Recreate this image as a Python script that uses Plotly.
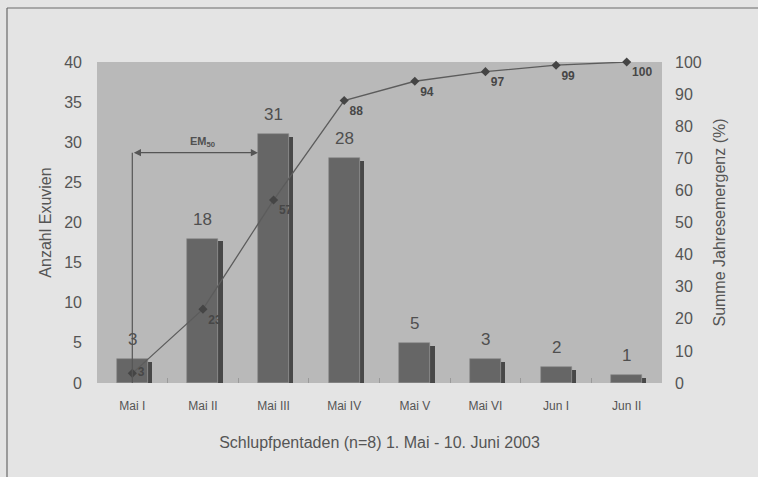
import plotly.graph_objects as go

categories = ["Mai I", "Mai II", "Mai III", "Mai IV", "Mai V", "Mai VI", "Jun I", "Jun II"]
exuvien = [3, 18, 31, 28, 5, 3, 2, 1]
summe_pct = [3, 23, 57, 88, 94, 97, 99, 100]
left_ticks = [0, 5, 10, 15, 20, 25, 30, 35, 40]
right_ticks = [0, 10, 20, 30, 40, 50, 60, 70, 80, 90, 100]

W, H = 758, 477
ML, MR, MT, MB = 97, 96, 62, 94
BAR_W = 0.44
SIDE_W = 0.06
EM_LEVEL = 28.7

fig = go.Figure()

# bar side (pseudo 3D)
fig.add_trace(go.Bar(
    x=categories, y=[v - 0.35 for v in exuvien], width=SIDE_W, offset=BAR_W / 2,
    marker=dict(color="#484848", line=dict(width=0)), hoverinfo="skip", showlegend=False,
))
# main bars
fig.add_trace(go.Bar(
    x=categories, y=exuvien, width=BAR_W, offset=-BAR_W / 2,
    marker=dict(color="#666666", line=dict(color="#8a8a8a", width=0.6)),
    showlegend=False,
))
# bar value labels
for c, v in zip(categories, exuvien):
    fig.add_annotation(
        x=c, y=v, xref="x", yref="y", yanchor="bottom", yshift=8, showarrow=False,
        text=str(v), font=dict(family="Liberation Sans, Arial", size=17, color="#4f4f4f"),
    )
# cumulative line
label_pos = ["middle right"] + ["bottom right"] * (len(summe_pct) - 1)
fig.add_trace(go.Scatter(
    x=categories, y=summe_pct, yaxis="y2", mode="lines+markers+text",
    line=dict(color="#5c5c5c", width=1.3),
    marker=dict(symbol="diamond", size=7, color="#454545"),
    text=["<b>%d</b>" % v for v in summe_pct], textposition=label_pos, cliponaxis=False,
    textfont=dict(family="Liberation Sans, Arial", size=12, color="#474747"),
    showlegend=False,
))

font_axis = dict(family="Liberation Sans, Arial", size=16, color="#555555")

fig.update_layout(
    width=W, height=H,
    margin=dict(l=ML, r=MR, t=MT, b=MB),
    paper_bgcolor="#e4e4e4",
    plot_bgcolor="#b9b9b9",
    barmode="overlay",
    bargap=0,
    xaxis=dict(
        type="category", showgrid=False, zeroline=False, automargin=False,
        ticks="inside", tickson="boundaries", ticklen=5, tickcolor="#9a9a9a",
        tickfont=dict(family="Liberation Sans, Arial", size=12, color="#555555"),
        ticklabelstandoff=14,
        title=dict(text="Schlupfpentaden (n=8) 1. Mai - 10. Juni 2003", font=font_axis, standoff=24),
        range=[-0.5, 7.5],
    ),
    yaxis=dict(
        range=[0, 40], tickvals=left_ticks, showgrid=False, zeroline=False, automargin=False,
        tickfont=font_axis, ticklabelstandoff=14,
        title=dict(text="Anzahl Exuvien", font=font_axis, standoff=8),
    ),
    yaxis2=dict(
        range=[0, 100], tickvals=right_ticks, overlaying="y", side="right", automargin=False,
        showgrid=False, zeroline=False, tickfont=font_axis, ticklabelstandoff=12,
        title=dict(text="Summe Jahresemergenz (%)", font=font_axis, standoff=13),
    ),
    font=dict(family="Liberation Sans, Arial"),
)

# EM50 marker: vertical line and double arrow
fig.add_shape(type="line", xref="x", yref="y", x0=0, x1=0, y0=0, y1=EM_LEVEL,
              line=dict(color="#555555", width=1.2))
fig.add_annotation(
    xref="x", yref="y", axref="x", ayref="y",
    x=2 - BAR_W / 2, y=EM_LEVEL, ax=0, ay=EM_LEVEL,
    showarrow=True, arrowhead=2, arrowside="end+start", arrowsize=1.2,
    arrowwidth=1.2, arrowcolor="#555555", text="",
)
fig.add_annotation(
    xref="x", yref="y", x=1, y=EM_LEVEL, yshift=11, showarrow=False,
    text="<b>EM<sub>50</sub></b>", font=dict(family="Liberation Sans, Arial", size=11, color="#505050"),
)

# outer frame (left and top border of the printed figure)
PW, PH = W - ML - MR, H - MT - MB
fx0 = (7 - ML) / PW
fx1 = (W - ML) / PW
fy_top = (H - 8 - MB) / PH
fy_bot = (0 - MB) / PH
fig.add_shape(type="line", xref="paper", yref="paper", x0=fx0, x1=fx0, y0=fy_bot, y1=fy_top,
              line=dict(color="#6a6a6a", width=1.2))
fig.add_shape(type="line", xref="paper", yref="paper", x0=fx0, x1=fx1, y0=fy_top, y1=fy_top,
              line=dict(color="#6a6a6a", width=1.2))

fig.write_html(
    "out.html",
    config={"displayModeBar": False},
    post_script="document.body.style.margin='0px';document.body.style.background='#e4e4e4';",
)
